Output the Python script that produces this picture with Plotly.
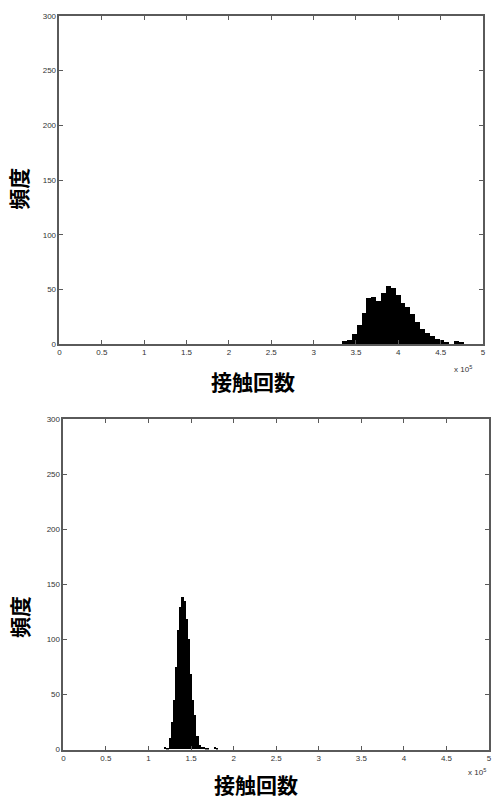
import plotly.graph_objects as go

# ---- data ----
# top histogram: 25 bins, left edge 334000, width 5760
top_bin_start = 334000
top_bin_width = 5760
top_counts = [3, 4, 9, 18, 29, 42, 43, 40, 47, 53, 51, 45, 38, 34, 28,
              20, 14, 10, 8, 5, 4, 2, 0, 3, 2]

# bottom histogram: 25 bins, left edge 119000, width 2520
bot_bin_start = 119000
bot_bin_width = 2520
bot_counts = [2, 1, 10, 25, 45, 75, 108, 129, 138, 135, 118, 100, 68, 45, 31,
              12, 4, 2, 2, 1, 1, 0, 0, 2, 1]

x_tick_vals = [0, 50000, 100000, 150000, 200000, 250000, 300000, 350000, 400000, 450000, 500000]
x_tick_text = ["0", "0.5", "1", "1.5", "2", "2.5", "3", "3.5", "4", "4.5", "5"]
y_tick_vals = [0, 50, 100, 150, 200, 250, 300]
x_title = "接触回数"
y_title = "頻度"

W, H = 492, 803

top_x = [top_bin_start + i * top_bin_width for i in range(len(top_counts))]
bot_x = [bot_bin_start + i * bot_bin_width for i in range(len(bot_counts))]

fig = go.Figure()
fig.add_trace(go.Bar(x=top_x, y=top_counts, width=top_bin_width, offset=0,
                     marker=dict(color="black", line=dict(width=0)),
                     xaxis="x", yaxis="y", showlegend=False))
fig.add_trace(go.Bar(x=bot_x, y=bot_counts, width=bot_bin_width, offset=0,
                     marker=dict(color="black", line=dict(width=0)),
                     xaxis="x2", yaxis="y2", showlegend=False))

axcol = "#5a5a5a"
tickfont = dict(family="Liberation Sans, Arial", size=8, color="#333")

def xax(domain, anchor):
    return dict(domain=domain, anchor=anchor, range=[0, 500000],
                tickvals=x_tick_vals, ticktext=x_tick_text,
                showline=True, linecolor=axcol, linewidth=1.5, mirror="ticks",
                ticks="inside", ticklen=4, tickcolor=axcol, tickwidth=1,
                showgrid=False, zeroline=False, tickfont=tickfont)

def yax(domain, anchor):
    return dict(domain=domain, anchor=anchor, range=[0, 300],
                tickvals=y_tick_vals,
                showline=True, linecolor=axcol, linewidth=1.5, mirror="ticks",
                ticks="inside", ticklen=4, tickcolor=axcol, tickwidth=1,
                showgrid=False, zeroline=False, tickfont=tickfont)

fig.update_layout(
    width=W, height=H, margin=dict(l=0, r=0, t=0, b=0),
    paper_bgcolor="white", plot_bgcolor="white", bargap=0,
    xaxis=xax([58 / W, 486 / W], "y"),
    yaxis=yax([1 - 344 / H, 1 - 12 / H], "x"),
    xaxis2=xax([62 / W, 1.0], "y2"),
    yaxis2=yax([1 - 754 / H, 1 - 420 / H], "x2"),
)

jp = dict(family="Noto Sans CJK JP", size=21, color="black")
def px(x, y):
    return x / W, 1 - y / H

annots = [
    (254, 381, x_title, 0),
    (16, 187, y_title, -90),
    (257, 789, x_title, 0),
    (17, 620, y_title, -90),
]
for x, y, t, ang in annots:
    ax_, ay_ = px(x, y)
    fig.add_annotation(x=ax_, y=ay_, xref="paper", yref="paper", text="<b>" + t + "</b>",
                       showarrow=False, textangle=ang, font=jp,
                       xanchor="center", yanchor="middle")

small = dict(family="Liberation Sans, Arial", size=8, color="#333")
for x, y in [(466, 369), (480, 777)]:
    ax_, ay_ = px(x, y)
    fig.add_annotation(x=ax_, y=ay_, xref="paper", yref="paper",
                       text="x 10<sup>5</sup>", showarrow=False, font=small,
                       xanchor="center", yanchor="middle")

fig.write_html("out.html", config={"displayModeBar": False},
               post_script="document.body.style.margin='0';document.body.style.overflow='hidden';")
